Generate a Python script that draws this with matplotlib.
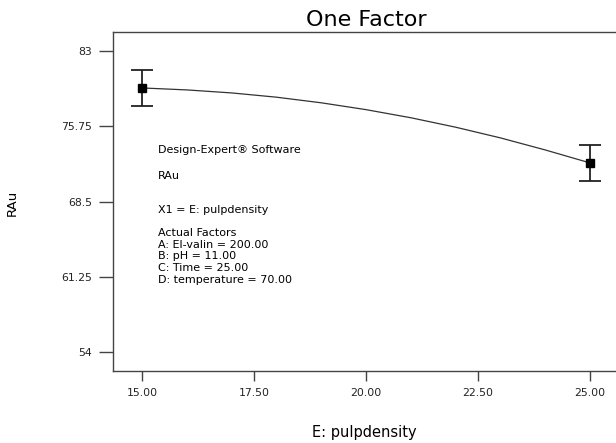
import matplotlib
matplotlib.use("Agg")
import matplotlib.pyplot as plt

plt.rcParams['font.family'] = ['DejaVu Sans']

# Design points (pulp density) with predicted RAu and interval half-widths
design_x = [15.0, 25.0]
design_y = [79.44, 72.22]
design_err = [1.73, 1.73]

# Model prediction along the factor range
curve_x = [15, 16, 17, 18, 19, 20, 21, 22, 23, 24, 25]
curve_y = [79.44, 79.25, 78.96, 78.55, 78.01, 77.35, 76.57, 75.66, 74.63, 73.47, 72.22]

x_ticks = [15.0, 17.5, 20.0, 22.5, 25.0]
x_tick_labels = ["15.00", "17.50", "20.00", "22.50", "25.00"]
y_ticks = [54, 61.25, 68.5, 75.75, 83]
y_tick_labels = ["54", "61.25", "68.5", "75.75", "83"]

info_lines = ["Design-Expert® Software", "RAu", "X1 = E: pulpdensity"]
factor_lines = ["Actual Factors", "A: El-valin = 200.00", "B: pH = 11.00",
                "C: Time = 25.00", "D: temperature = 70.00"]

W, H = 616, 443
fig = plt.figure(figsize=(W / 100, H / 100), dpi=100)
ax = fig.add_axes([113 / W, 72 / H, 506 / W, 339 / H])

ax.plot(curve_x, curve_y, color="#333333", lw=0.9, zorder=2)
ax.errorbar(design_x, design_y, yerr=design_err, fmt="s", color="black",
            ms=6, capsize=8, elinewidth=1.3, capthick=1.3, ecolor="#222222",
            zorder=3)

ax.set_xlim(14.35, 25.65)
ax.set_ylim(52.17, 84.83)
ax.set_xticks(x_ticks)
ax.set_xticklabels(x_tick_labels)
ax.set_yticks(y_ticks)
ax.set_yticklabels(y_tick_labels)

spine_color = "#444444"
for side in ("left", "top", "bottom"):
    ax.spines[side].set_color(spine_color)
    ax.spines[side].set_linewidth(1.0)
ax.spines["right"].set_visible(False)

ax.tick_params(axis="y", direction="out", length=10, width=1.0, color=spine_color,
               labelsize=7.8, labelcolor="#222222", pad=5)
ax.tick_params(axis="x", direction="out", length=7, width=1.0, color=spine_color,
               labelsize=7.8, labelcolor="#222222", pad=5)

ax.set_title("One Factor", fontsize=16, pad=4)
fig.text(364 / W, 1 - 432 / H, "E: pulpdensity", fontsize=10.5, ha="center", va="center")
fig.text(12 / W, 1 - 203 / H, "RAu", fontsize=9.5, ha="center", va="center", rotation=90)

for txt, py in zip(info_lines, [150, 176, 210]):
    fig.text(158 / W, 1 - py / H, txt, fontsize=8, ha="left", va="center")
for i, txt in enumerate(factor_lines):
    fig.text(158 / W, 1 - (233 + 11.7 * i) / H, txt, fontsize=8, ha="left", va="center",
             linespacing=1.0)

fig.savefig("out.png", dpi=100)
